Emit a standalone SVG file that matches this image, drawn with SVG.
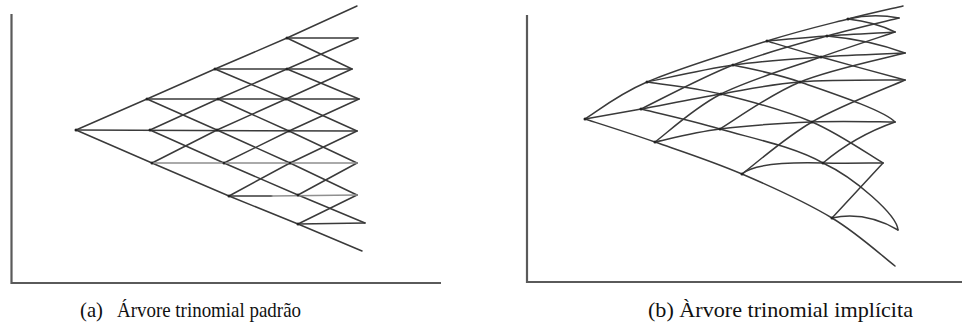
<svg xmlns="http://www.w3.org/2000/svg" width="962" height="327" viewBox="0 0 962 327">
<style>
.axis{stroke:#5a5a5a;stroke-width:2.2;fill:none}
.e{stroke:#3a3a3a;stroke-width:1.5;fill:none;stroke-linejoin:round;stroke-linecap:round}
.lt{stroke:#8f8f8f}
.n{fill:#222}
.cap{font-family:"Liberation Serif","Times New Roman",serif;font-size:21px;fill:#111}
</style>
<rect width="962" height="327" fill="#fff"/>
<g id="panel-a">
  <g id="axes-a">
    <path class="axis" d="M11.5,14 V283 H441"/>
  </g>
  <g id="connectors-a">
    <polyline class="e" points="76,130 147,99 215,69 287,38 357,6"/>
    <polyline class="e" points="150,130 218,99 287,69 358,38"/>
    <polyline class="e" points="152,163 217,130 286,99 352,69"/>
    <polyline class="e" points="224,163 289,131 359,99"/>
    <polyline class="e" points="229,196 290,163 357,131"/>
    <polyline class="e" points="298,195 357,163"/>
    <polyline class="e" points="298,224 357,195"/>
    <polyline class="e" points="76,130 152,163 229,196 298,224 362,251"/>
    <polyline class="e" points="150,130 224,163 298,195 365,223"/>
    <polyline class="e" points="147,99 217,130 290,163 357,195"/>
    <polyline class="e" points="218,99 289,131 357,163"/>
    <polyline class="e" points="215,69 286,99 357,131"/>
    <polyline class="e" points="287,69 359,99"/>
    <polyline class="e" points="287,38 352,69"/>
    <line class="e" x1="76" y1="130" x2="357" y2="131"/>
    <line class="e" x1="147" y1="99" x2="359" y2="99"/>
    <line class="e" x1="215" y1="69" x2="352" y2="69"/>
    <line class="e" x1="287" y1="38" x2="358" y2="38"/>
    <line class="e lt" x1="152" y1="163" x2="357" y2="163"/>
    <line class="e" x1="229" y1="196" x2="272" y2="196"/>
    <line class="e lt" x1="272" y1="196" x2="357" y2="195"/>
    <line class="e" x1="298" y1="224" x2="365" y2="223"/>
  </g>
  <g id="nodes-a">
    <circle class="n" cx="76" cy="130" r="1.5"/>
    <circle class="n" cx="147" cy="99" r="1.5"/><circle class="n" cx="150" cy="130" r="1.5"/><circle class="n" cx="152" cy="163" r="1.5"/>
    <circle class="n" cx="215" cy="69" r="1.5"/><circle class="n" cx="218" cy="99" r="1.5"/><circle class="n" cx="217" cy="130" r="1.5"/><circle class="n" cx="224" cy="163" r="1.5"/><circle class="n" cx="229" cy="196" r="1.5"/>
    <circle class="n" cx="287" cy="38" r="1.5"/><circle class="n" cx="287" cy="69" r="1.5"/><circle class="n" cx="286" cy="99" r="1.5"/><circle class="n" cx="289" cy="131" r="1.5"/><circle class="n" cx="290" cy="163" r="1.5"/><circle class="n" cx="298" cy="195" r="1.5"/><circle class="n" cx="298" cy="224" r="1.5"/>
  </g>
  <text class="cap" x="80" y="317" textLength="23" lengthAdjust="spacingAndGlyphs">(a)</text>
  <text class="cap" x="117" y="317" textLength="184" lengthAdjust="spacingAndGlyphs">Árvore trinomial padrão</text>
</g>
<g id="panel-b">
  <g id="axes-b">
    <path class="axis" d="M527,15 V282 H962"/>
  </g>
  <g id="connectors-b">
    <path class="e" d="M585,119 C595.3,112.8 616.7,95 647,82 C677.3,69 733.5,51.5 767,41 C800.5,30.5 825.3,24.8 848,19 C870.7,13.2 893.8,8.2 903,6"/>
    <path class="e" d="M641,109 C656.3,101.7 702,77.2 733,65 C764,52.8 799.3,43.8 827,36 C854.7,28.2 887,21 899,18"/>
    <path class="e" d="M655,142 C666,134 693.3,108.2 721,94 C748.7,79.8 792,67.3 821,57 C850,46.7 882.7,36.2 895,32"/>
    <path class="e" d="M720,129 C733.3,121.2 769.2,94.7 800,82 C830.8,69.3 887.5,57.8 905,53"/>
    <path class="e" d="M742,174 C753.7,165.3 784.8,137.7 812,122 C839.2,106.3 889.5,87 905,80"/>
    <path class="e" d="M823,163 Q855,136 895,122"/>
    <path class="e" d="M832,218 L883,163"/>
    <path class="e" d="M585,119 C596.7,122.8 628.8,132.8 655,142 C681.2,151.2 712.5,161.3 742,174 C771.5,186.7 806.5,202.7 832,218 C857.5,233.3 884.5,258 895,266"/>
    <path class="e" d="M641,109 C654.2,112.3 689.7,120 720,129 C750.3,138 793.3,146.2 823,163 C855,178 897,215 898,230"/>
    <path class="e" d="M647,82 C659.3,84 693.5,87.3 721,94 C748.5,100.7 785,110.5 812,122 C839,133.5 871.2,156.2 883,163"/>
    <path class="e" d="M733,65 C744.2,67.8 773,72.5 800,82 C827,91.5 884,110 895,122"/>
    <path class="e" d="M767,41 C776,43.7 798,50.5 821,57 C844,63.5 891,76.2 905,80"/>
    <path class="e" d="M827,36 Q870,40 905,53"/>
    <path class="e" d="M848,19 Q875,22 895,32"/>
    <path class="e" d="M585,119 C594.3,117.3 618.3,113.2 641,109 C663.7,104.8 694.5,98.5 721,94 C747.5,89.5 769.3,84.3 800,82 C830.7,79.7 887.5,80.3 905,80"/>
    <path class="e" d="M647,82 C661.3,79.2 704,69.2 733,65 C762,60.8 792.3,59 821,57 C849.7,55 891,53.7 905,53"/>
    <path class="e" d="M767,41 C777,40.2 805.7,37.5 827,36 C848.3,34.5 883.7,32.7 895,32"/>
    <path class="e" d="M848,19 Q873,13 899,18"/>
    <path class="e" d="M655,142 C665.8,139.8 693.8,132.3 720,129 C746.2,125.7 782.8,123.2 812,122 C841.2,120.8 881.2,122 895,122"/>
    <path class="e" d="M742,174 C752,165 785,162 823,163 C845,163.5 870,163 883,163"/>
    <path class="e" d="M832,218 Q865,211 898,230"/>
  </g>
  <g id="nodes-b">
    <circle class="n" cx="585" cy="119" r="1.5"/>
    <circle class="n" cx="647" cy="82" r="1.5"/><circle class="n" cx="641" cy="109" r="1.5"/><circle class="n" cx="655" cy="142" r="1.5"/>
    <circle class="n" cx="767" cy="41" r="1.5"/><circle class="n" cx="733" cy="65" r="1.5"/><circle class="n" cx="721" cy="94" r="1.5"/><circle class="n" cx="720" cy="129" r="1.5"/><circle class="n" cx="742" cy="174" r="1.5"/>
    <circle class="n" cx="848" cy="19" r="1.5"/><circle class="n" cx="827" cy="36" r="1.5"/><circle class="n" cx="821" cy="57" r="1.5"/><circle class="n" cx="800" cy="82" r="1.5"/><circle class="n" cx="812" cy="122" r="1.5"/><circle class="n" cx="823" cy="163" r="1.5"/><circle class="n" cx="832" cy="218" r="1.5"/>
  </g>
  <text class="cap" x="648" y="317" textLength="265" lengthAdjust="spacingAndGlyphs">(b) Àrvore trinomial implícita</text>
</g>
</svg>
